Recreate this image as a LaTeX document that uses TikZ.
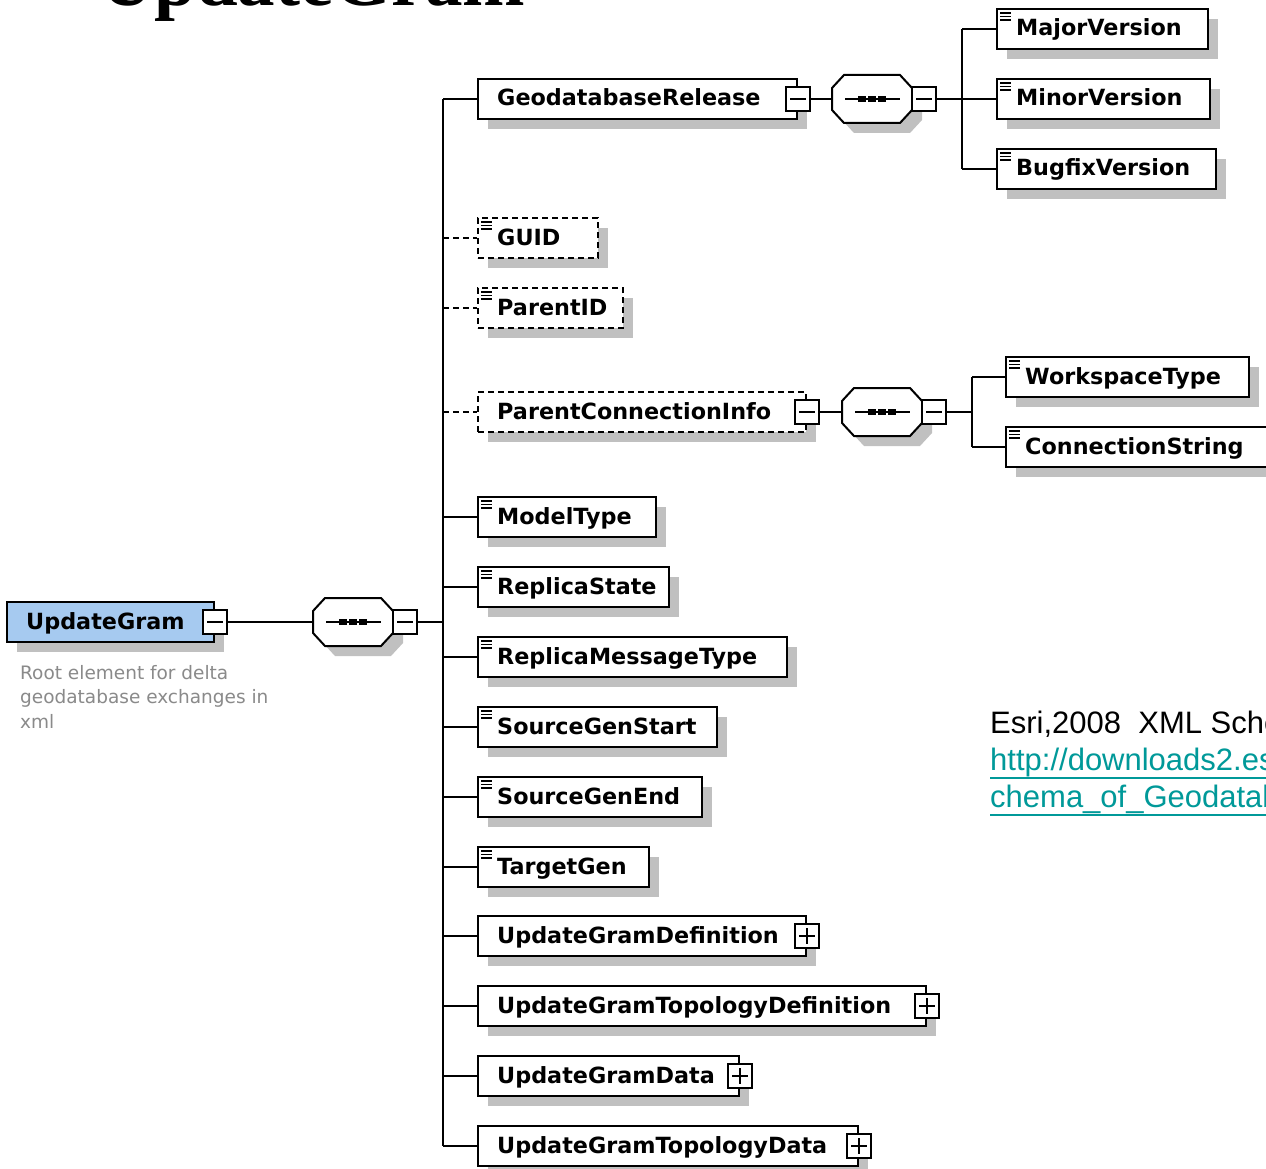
\documentclass[tikz,border=0pt]{standalone}
\usepackage{fontspec}
\setmainfont{DejaVu Sans}
\newfontfamily\serifT{Liberation Serif}
\newfontfamily\arialF{Liberation Sans}
\usetikzlibrary{calc,shadows}
\definecolor{rootblue}{HTML}{A6CAF0}
\definecolor{shadowgray}{HTML}{C0C0C0}
\definecolor{descgray}{HTML}{8A8A8A}
\definecolor{linkteal}{HTML}{009999}
\tikzset{
  elem/.style={draw=black, line width=2pt, fill=white, rectangle, inner sep=0pt,
    minimum height=40pt, anchor=west,
    drop shadow={shadow xshift=10pt, shadow yshift=-10pt, fill=shadowgray, opacity=1, draw=none}},
  optelem/.style={elem, dash pattern=on 6pt off 4pt},
  rootelem/.style={elem, fill=rootblue},
  lbl/.style={font=\bfseries\fontsize{22.3}{25}\selectfont, inner sep=0pt, anchor=base west},
  btn/.style={draw=black, line width=1.5pt, fill=white, rectangle, inner sep=0pt,
    minimum width=24pt, minimum height=24pt},
  conn/.style={line width=2pt},
  optconn/.style={conn, dash pattern=on 6pt off 4pt},
  desc/.style={font=\fontsize{18.5}{24}\selectfont, text=descgray, inner sep=0pt, anchor=base west},
  esri/.style={font=\arialF\fontsize{31}{37}\selectfont, inner sep=0pt, anchor=base west},
}
\newcommand\mkel[5][elem]{%
  \node[#1, minimum width=#4pt] (#2) at #3 {};
  \node[lbl] (#2-t) at ($(#2.west)+(20,7)$) {#5};
}
\newcommand\elicon[1]{%
  \foreach \dy in {5,8.5,12} \draw[line width=1.5pt] ($(#1.north west)+(4,\dy)$) -- ++(11,0);
}
\newcommand\mbtn[2]{%
  \node[btn] (#1) at #2 {};
  \draw[line width=1.5pt] ($(#1.center)+(-8,0)$) -- ($(#1.center)+(8,0)$);
}
\newcommand\pbtn[2]{%
  \mbtn{#1}{#2}
  \draw[line width=1.5pt] ($(#1.center)+(0,-8)$) -- ($(#1.center)+(0,8)$);
}
\newcommand\seqc[3]{%
  \begin{scope}[shift={(#2,#3)}]
    \fill[shadowgray, shift={(10,10)}] (-28,-24) -- (28,-24) -- (40,-11) -- (40,11) -- (28,24)
      -- (-28,24) -- (-40,11) -- (-40,-11) -- cycle;
    \node[inner sep=0pt, minimum width=80pt, minimum height=48pt] (#1) at (0,0) {};
    \draw[line width=2pt, fill=white] (-28,-24) -- (28,-24) -- (40,-11) -- (40,11) -- (28,24)
      -- (-28,24) -- (-40,11) -- (-40,-11) -- cycle;
    \draw[line width=2pt] (-27,0) -- (28,0);
    \foreach \dx in {-10,0,10} \fill (\dx-4,-3) rectangle (\dx+4,3);
  \end{scope}
}
\begin{document}
\begin{tikzpicture}[x=1pt, y=-1pt]
\useasboundingbox[fill=white] (0,0) rectangle (1266,1169);

% title (cut off at top)
\node[anchor=base west, inner sep=0pt, font=\serifT\bfseries\fontsize{75}{80}\selectfont] (title) at (100,6) {UpdateGram};

% root
\mkel[rootelem]{ug}{(6,622)}{207}{UpdateGram}
\mbtn{ugb}{(ug.east)}
\node[desc] (d1) at (20,679) {Root element for delta};
\node[desc] (d2) at (20,703) {geodatabase exchanges in};
\node[desc] (d3) at (20,728) {xml};

% main sequence
\seqc{seq0}{353}{622}
\mbtn{seq0b}{($(seq0.east)+(12,0)$)}
\coordinate (trunk) at (443,622);

% GeodatabaseRelease branch
\mkel{gdr}{(477,99)}{319}{GeodatabaseRelease}
\mbtn{gdrb}{(gdr.east)}
\seqc{seq1}{872}{99}
\mbtn{seq1b}{($(seq1.east)+(12,0)$)}
\coordinate (br1) at (962,99);
\mkel{maj}{(996,29)}{211}{MajorVersion}\elicon{maj}
\mkel{min}{(996,99)}{213}{MinorVersion}\elicon{min}
\mkel{bug}{(996,169)}{219}{BugfixVersion}\elicon{bug}

% optional ones
\mkel[optelem]{guid}{(477,238)}{120}{GUID}\elicon{guid}
\mkel[optelem]{pid}{(477,308)}{145}{ParentID}\elicon{pid}
\mkel[optelem]{pci}{(477,412)}{328}{ParentConnectionInfo}
\mbtn{pcib}{(pci.east)}
\seqc{seq2}{882}{412}
\mbtn{seq2b}{($(seq2.east)+(12,0)$)}
\coordinate (br2) at (972,412);
\mkel{wst}{(1005,377)}{243}{WorkspaceType}\elicon{wst}
\mkel{cst}{(1005,447)}{262}{ConnectionString}\elicon{cst}

% simple elements
\mkel{mt}{(477,517)}{178}{ModelType}\elicon{mt}
\mkel{rs}{(477,587)}{191}{ReplicaState}\elicon{rs}
\mkel{rmt}{(477,657)}{309}{ReplicaMessageType}\elicon{rmt}
\mkel{sgs}{(477,727)}{239}{SourceGenStart}\elicon{sgs}
\mkel{sge}{(477,797)}{224}{SourceGenEnd}\elicon{sge}
\mkel{tg}{(477,867)}{171}{TargetGen}\elicon{tg}

% complex collapsed elements
\mkel{ugd}{(477,936)}{328}{UpdateGramDefinition}
\pbtn{ugdb}{(ugd.east)}
\mkel{ugtd}{(477,1006)}{448}{UpdateGramTopologyDefinition}
\pbtn{ugtdb}{(ugtd.east)}
\mkel{ugdata}{(477,1076)}{261}{UpdateGramData}
\pbtn{ugdatab}{(ugdata.east)}
\mkel{ugtdata}{(477,1146)}{380}{UpdateGramTopologyData}
\pbtn{ugtdatab}{(ugtdata.east)}

% connectors
\draw[conn] (ugb.east) -- (seq0.west);
\draw[conn] (seq0b.east) -- (trunk);
\draw[conn] (gdr.west -| trunk) -- (ugtdata.west -| trunk);
\foreach \n in {gdr,mt,rs,rmt,sgs,sge,tg,ugd,ugtd,ugdata,ugtdata}
  \draw[conn] (\n.west -| trunk) -- (\n.west);
\foreach \n in {guid,pid,pci}
  \draw[optconn] (\n.west -| trunk) -- (\n.west);
\draw[conn] (gdrb.east) -- (seq1.west);
\draw[conn] (seq1b.east) -- (br1);
\draw[conn] (maj.west -| br1) -- (bug.west -| br1);
\foreach \n in {maj,min,bug}
  \draw[conn] (\n.west -| br1) -- (\n.west);
\draw[conn] (pcib.east) -- (seq2.west);
\draw[conn] (seq2b.east) -- (br2);
\draw[conn] (wst.west -| br2) -- (cst.west -| br2);
\foreach \n in {wst,cst}
  \draw[conn] (\n.west -| br2) -- (\n.west);

% reference text
\node[esri] (src) at (990,733) {Esri,2008~~XML Schema of the Geodatabase};
\node[esri, text=linkteal] (url1) at (990,770) {http://downloads2.esri.com/support/};
\draw[linkteal, line width=2.5pt] ($(url1.base west)+(0,8)$) -- ($(url1.base east)+(0,8)$);
\node[esri, text=linkteal] (url2) at (990,807) {chema\_of\_Geodatabase.pdf};
\draw[linkteal, line width=2.5pt] ($(url2.base west)+(0,8)$) -- ($(url2.base east)+(0,8)$);
\end{tikzpicture}
\end{document}
